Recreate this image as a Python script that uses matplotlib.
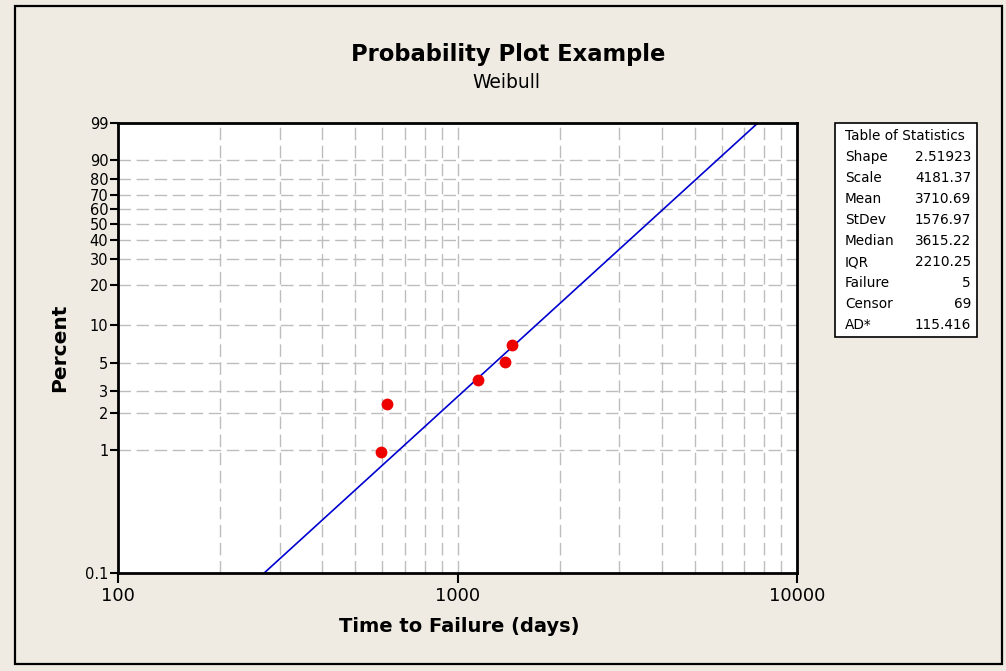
import numpy as np
import matplotlib
matplotlib.use("Agg")
import matplotlib.pyplot as plt
from matplotlib.patches import Rectangle
from matplotlib.ticker import FixedLocator, FixedFormatter, NullLocator

# ---- data ----
fail_times = [594, 622, 1153, 1384, 1443]
fail_percent = [0.96, 2.35, 3.66, 5.09, 6.93]
shape = 2.51923
scale = 4181.37
y_ticks = [0.1, 1, 2, 3, 5, 10, 20, 30, 40, 50, 60, 70, 80, 90, 99]
y_grid = [1, 2, 3, 5, 10, 20, 30, 40, 50, 60, 70, 80, 90]
x_ticks = [100, 1000, 10000]
x_grid = [200, 300, 400, 500, 600, 700, 800, 900, 1000,
          2000, 3000, 4000, 5000, 6000, 7000, 8000, 9000]
stat_names = ["Shape", "Scale", "Mean", "StDev", "Median", "IQR", "Failure", "Censor", "AD*"]
stat_values = ["2.51923", "4181.37", "3710.69", "1576.97", "3615.22", "2210.25", "5", "69", "115.416"]

BG = "#EFEBE2"
W, H = 1006, 671
fig = plt.figure(figsize=(W / 100, H / 100), dpi=100, facecolor=BG)

# outer frame
fig.patches.append(Rectangle((15 / W, 1 - 664 / H), (1002 - 15) / W, (664 - 6) / H,
                             transform=fig.transFigure, fill=False, edgecolor="black",
                             linewidth=1.6))

ax = fig.add_axes([118 / W, 1 - 573 / H, (797 - 118) / W, (573 - 123) / H])
ax.set_facecolor("white")


def fwd(p):
    p = np.clip(np.asarray(p, dtype=float), 1e-6, 99.9999) / 100.0
    return np.log(-np.log(1 - p))


def inv(w):
    return 100 * (1 - np.exp(-np.exp(np.asarray(w, dtype=float))))


ax.set_xscale("log")
ax.set_yscale("function", functions=(fwd, inv))
ax.set_xlim(100, 10000)
ax.set_ylim(0.1, 99)

# grid
for g in x_grid:
    ax.axvline(g, color="#BDBDBD", lw=1.0, dashes=(9, 4), zorder=1)
for g in y_grid:
    ax.axhline(g, color="#BDBDBD", lw=1.0, dashes=(9, 4), zorder=1)

# fitted line
xs = np.geomspace(200, 9000, 400)
ps = 100 * (1 - np.exp(-(xs / scale) ** shape))
ax.plot(xs, ps, color="#0000D0", lw=1.2, zorder=3)

# points
ax.plot(fail_times, fail_percent, "o", color="#EE0000", markersize=8.5,
        markeredgewidth=0, zorder=4)

ax.xaxis.set_major_locator(FixedLocator(x_ticks))
ax.xaxis.set_major_formatter(FixedFormatter([str(v) for v in x_ticks]))
ax.xaxis.set_minor_locator(NullLocator())
ax.yaxis.set_major_locator(FixedLocator(y_ticks))
ax.yaxis.set_major_formatter(FixedFormatter([("%g" % v) for v in y_ticks]))
ax.yaxis.set_minor_locator(NullLocator())
ax.tick_params(axis="x", direction="out", length=7, width=1.5, labelsize=13, pad=3)
ax.tick_params(axis="y", direction="out", length=6, width=1.5, labelsize=10.5, pad=1)
for s in ax.spines.values():
    s.set_linewidth(2)
    s.set_zorder(5)

# titles
fig.text(508 / W, 1 - 55 / H, "Probability Plot Example", ha="center", va="center",
         fontsize=16.3, fontweight="bold")
fig.text(506 / W, 1 - 83 / H, "Weibull", ha="center", va="center", fontsize=13.5)
fig.text(459 / W, 1 - 627 / H, "Time to Failure (days)", ha="center", va="center",
         fontsize=14, fontweight="bold")
fig.text(60 / W, 1 - 348 / H, "Percent", ha="center", va="center", rotation=90,
         fontsize=14.5, fontweight="bold")

# statistics box
fig.patches.append(Rectangle((835 / W, 1 - 337 / H), (977 - 835) / W, (337 - 123) / H,
                             transform=fig.transFigure, facecolor="white",
                             edgecolor="black", linewidth=1.2))
fig.text(845 / W, 1 - 136 / H, "Table of Statistics", ha="left", va="center", fontsize=9.8)
for i, (n, v) in enumerate(zip(stat_names, stat_values)):
    y = 157 + i * 21.0
    fig.text(845 / W, 1 - y / H, n, ha="left", va="center", fontsize=9.8)
    fig.text(971 / W, 1 - y / H, v, ha="right", va="center", fontsize=9.8)

fig.savefig("out.png", dpi=100, facecolor=BG)
